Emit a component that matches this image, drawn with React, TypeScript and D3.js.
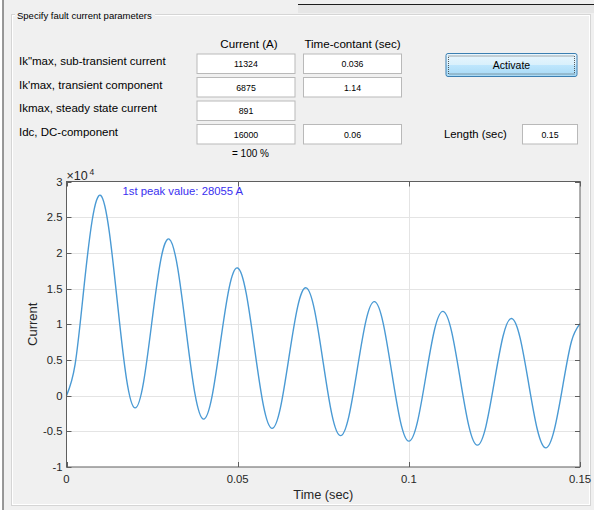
import React, { useEffect, useRef } from 'react';
import * as d3 from 'd3';

// fault current, every 1/8 cycle (50 Hz)
const timeSec = [
  0, 0.0025, 0.005, 0.0075, 0.01, 0.0125, 0.015, 0.0175, 0.02, 0.0225,
  0.025, 0.0275, 0.03, 0.0325, 0.035, 0.0375, 0.04, 0.0425, 0.045, 0.0475,
  0.05, 0.0525, 0.055, 0.0575, 0.06, 0.0625, 0.065, 0.0675, 0.07, 0.0725,
  0.075, 0.0775, 0.08, 0.0825, 0.085, 0.0875, 0.09, 0.0925, 0.095, 0.0975,
  0.1, 0.1025, 0.105, 0.1075, 0.11, 0.1125, 0.115, 0.1175, 0.12, 0.1225,
  0.125, 0.1275, 0.13, 0.1325, 0.135, 0.1375, 0.14, 0.1425, 0.145, 0.1475,
  0.15,
];
const currentA = [
  0, 4330, 14720, 24570, 28050, 22940, 12460, 2430, -1720, 1860,
  10550, 18920, 21940, 17820, 8930, 310, -3290, -140, 7560, 15070,
  17880, 14310, 6400, -1340, -4590, -1690, 5420, 12410, 15100, 11880,
  4580, -2600, -5610, -2860, 3880, 10550, 13170, 10170, 3280, -3530,
  -6380, -3720, 2780, 9230, 11800, 8960, 2350, -4200, -6940, -4340,
  1990, 8280, 10810, 8090, 1690, -4680, -7320, -4770, 1430, 7590,
  10090,
];

const xTicks = [0, 0.05, 0.1, 0.15];
const xTickLabels = ['0', '0.05', '0.1', '0.15'];
const yTicks = [-10000, -5000, 0, 5000, 10000, 15000, 20000, 25000, 30000];
const yTickLabels = ['-1', '-0.5', '0', '0.5', '1', '1.5', '2', '2.5', '3'];

const rowLabels = [
  'Ik"max, sub-transient current',
  "Ik'max, transient component",
  'Ikmax, steady state current',
  'Idc, DC-component',
];
const currentInputs = ['11324', '6875', '891', '16000'];
const timeInputs = ['0.036', '1.14', null, '0.06'];
const lengthValue = '0.15';
const peakValue = 28055;

const FONT = '"Liberation Sans", Arial, sans-serif';

function FaultCurrentPanel() {
  const svgRef = useRef(null);

  useEffect(() => {
    const svg = d3.select(svgRef.current);
    svg.selectAll('*').remove();

    // window background + frame bits
    svg.append('rect').attr('width', 594).attr('height', 510).attr('fill', '#f0f0f0');
    svg.append('rect').attr('x', 0).attr('y', 0).attr('width', 2.5).attr('height', 510).attr('fill', '#ffffff');
    svg.append('line').attr('x1', 3).attr('x2', 3).attr('y1', 0).attr('y2', 510)
      .attr('stroke', '#3a3a3a').attr('stroke-width', 1);
    svg.append('rect').attr('x', 298).attr('y', 5).attr('width', 296).attr('height', 8).attr('fill', '#e6e6e6');
    svg.append('line').attr('x1', 298).attr('x2', 594).attr('y1', 4.5).attr('y2', 4.5)
      .attr('stroke', '#1e1e1e').attr('stroke-width', 1.2);

    // group box
    svg.append('rect').attr('x', 11.5).attr('y', 14.5).attr('width', 579).attr('height', 491)
      .attr('fill', 'none').attr('stroke', '#d5d5d5');
    svg.append('rect').attr('x', 12.5).attr('y', 15.5).attr('width', 577).attr('height', 489)
      .attr('fill', 'none').attr('stroke', '#ffffff');
    svg.append('rect').attr('x', 15).attr('y', 9).attr('width', 140).attr('height', 12).attr('fill', '#f0f0f0');
    svg.append('text').attr('x', 17).attr('y', 18.5)
      .attr('font-family', FONT).attr('font-size', 9.5).attr('fill', '#000')
      .text('Specify fault current parameters');

    // column headers
    const header = (x, text) => svg.append('text').attr('x', x).attr('y', 47.5)
      .attr('text-anchor', 'middle').attr('font-family', FONT).attr('font-size', 11.6)
      .attr('fill', '#000').text(text);
    header(249, 'Current (A)');
    header(352.5, 'Time-contant (sec)');

    const rowY = [53.5, 77, 100.5, 124];
    const box = (x, y, w, value) => {
      svg.append('rect').attr('x', x + 0.5).attr('y', y + 0.5).attr('width', w).attr('height', 19.5)
        .attr('fill', '#ffffff').attr('stroke', '#b9b9b9');
      if (value !== null) {
        svg.append('text').attr('x', x + 0.5 + w / 2).attr('y', y + 13.5)
          .attr('text-anchor', 'middle').attr('font-family', FONT).attr('font-size', 8.8)
          .attr('fill', '#000').text(value);
      }
    };

    rowLabels.forEach((label, i) => {
      svg.append('text').attr('x', 19).attr('y', rowY[i] + 11.8)
        .attr('font-family', FONT).attr('font-size', 11.5).attr('fill', '#000').text(label);
      box(196.5, rowY[i], 98, currentInputs[i]);
      if (timeInputs[i] !== null) box(303, rowY[i], 98, timeInputs[i]);
    });

    svg.append('text').attr('x', 250.5).attr('y', 156.5).attr('text-anchor', 'middle')
      .attr('font-family', FONT).attr('font-size', 10).attr('fill', '#000').text('= 100 %');

    // Activate button
    const defs = svg.append('defs');
    const grad = defs.append('linearGradient').attr('id', 'btnGrad')
      .attr('x1', 0).attr('x2', 0).attr('y1', 0).attr('y2', 1);
    grad.append('stop').attr('offset', '0%').attr('stop-color', '#eaf6fd');
    grad.append('stop').attr('offset', '50%').attr('stop-color', '#d9f0fc');
    grad.append('stop').attr('offset', '51%').attr('stop-color', '#bee6fd');
    grad.append('stop').attr('offset', '100%').attr('stop-color', '#a7d9f5');
    svg.append('rect').attr('x', 446).attr('y', 53.5).attr('width', 131).attr('height', 23).attr('rx', 2)
      .attr('fill', 'url(#btnGrad)').attr('stroke', '#3c7fb1');
    svg.append('rect').attr('x', 448.5).attr('y', 56).attr('width', 126).attr('height', 18)
      .attr('fill', 'none').attr('stroke', '#333').attr('stroke-width', 0.8).attr('stroke-dasharray', '1,1');
    svg.append('text').attr('x', 511.5).attr('y', 69).attr('text-anchor', 'middle')
      .attr('font-family', FONT).attr('font-size', 10.5).attr('fill', '#000').text('Activate');

    // Length
    svg.append('text').attr('x', 444).attr('y', 137.5)
      .attr('font-family', FONT).attr('font-size', 11.3).attr('fill', '#000').text('Length (sec)');
    box(522, 124, 55, lengthValue);

    // ---- plot ----
    const x0 = 66.5, x1 = 580, yTop = 181.5, yBot = 467;
    const x = d3.scaleLinear().domain([0, 0.15]).range([x0, x1]);
    const y = d3.scaleLinear().domain([-10000, 30000]).range([yBot, yTop]);

    svg.append('rect').attr('x', x0).attr('y', yTop).attr('width', x1 - x0).attr('height', yBot - yTop)
      .attr('fill', '#ffffff');

    const grid = svg.append('g').attr('stroke', '#e4e4e4').attr('stroke-width', 1);
    xTicks.slice(1, -1).forEach(t => {
      grid.append('line').attr('x1', Math.round(x(t)) + 0.5).attr('x2', Math.round(x(t)) + 0.5)
        .attr('y1', yTop).attr('y2', yBot);
    });
    yTicks.slice(1, -1).forEach(t => {
      grid.append('line').attr('x1', x0).attr('x2', x1)
        .attr('y1', Math.round(y(t)) + 0.5).attr('y2', Math.round(y(t)) + 0.5);
    });

    const points = timeSec.map((t, i) => [t, currentA[i]]);
    const line = d3.line()
      .x(d => x(d[0]))
      .y(d => y(d[1]))
      .curve(d3.curveNatural);

    svg.append('path').datum(points)
      .attr('fill', 'none').attr('stroke', '#4a9ad4').attr('stroke-width', 1.4)
      .attr('d', line);

    // axes box and inward ticks
    const axisColor = '#5e5e5e';
    svg.append('rect').attr('x', x0).attr('y', yTop).attr('width', x1 - x0).attr('height', yBot - yTop)
      .attr('fill', 'none').attr('stroke', axisColor).attr('stroke-width', 1);
    const ticks = svg.append('g').attr('stroke', axisColor).attr('stroke-width', 1);
    xTicks.forEach(t => {
      const px = Math.round(x(t)) + 0.5;
      ticks.append('line').attr('x1', px).attr('x2', px).attr('y1', yBot).attr('y2', yBot - 5);
      ticks.append('line').attr('x1', px).attr('x2', px).attr('y1', yTop).attr('y2', yTop + 5);
    });
    yTicks.forEach(t => {
      const py = Math.round(y(t)) + 0.5;
      ticks.append('line').attr('x1', x0).attr('x2', x0 + 5).attr('y1', py).attr('y2', py);
      ticks.append('line').attr('x1', x1).attr('x2', x1 - 5).attr('y1', py).attr('y2', py);
    });

    xTicks.forEach((t, i) => {
      svg.append('text').attr('x', x(t)).attr('y', 483)
        .attr('text-anchor', 'middle').attr('font-family', FONT).attr('font-size', 11.3)
        .attr('fill', '#262626').text(xTickLabels[i]);
    });
    yTicks.forEach((t, i) => {
      svg.append('text').attr('x', 62.5).attr('y', y(t) + 4)
        .attr('text-anchor', 'end').attr('font-family', FONT).attr('font-size', 11.3)
        .attr('fill', '#262626').text(yTickLabels[i]);
    });

    // x10^4 exponent
    svg.append('text').attr('x', 66.5).attr('y', 179.5)
      .attr('font-family', FONT).attr('font-size', 12.5).attr('fill', '#262626').text('\u00d710');
    svg.append('text').attr('x', 89.5).attr('y', 174.5)
      .attr('font-family', FONT).attr('font-size', 8.5).attr('fill', '#262626').text('4');

    // axis titles
    svg.append('text').attr('x', 323.3).attr('y', 498.5).attr('text-anchor', 'middle')
      .attr('font-family', FONT).attr('font-size', 12.8).attr('fill', '#262626').text('Time (sec)');
    svg.append('text').attr('transform', 'translate(36.5,324.3) rotate(-90)')
      .attr('text-anchor', 'middle').attr('font-family', FONT).attr('font-size', 13)
      .attr('fill', '#262626').text('Current');

    // peak annotation
    svg.append('text').attr('x', 122.5).attr('y', 194.8)
      .attr('font-family', FONT).attr('font-size', 11.3).attr('fill', '#3a30f0')
      .text(`1st peak value: ${peakValue} A`);
  }, []);

  return (
    <svg ref={svgRef} width={594} height={510}
      style={{ position: 'absolute', left: 0, top: 0, display: 'block' }} />
  );
}

export default function App() {
  return <FaultCurrentPanel />;
}
